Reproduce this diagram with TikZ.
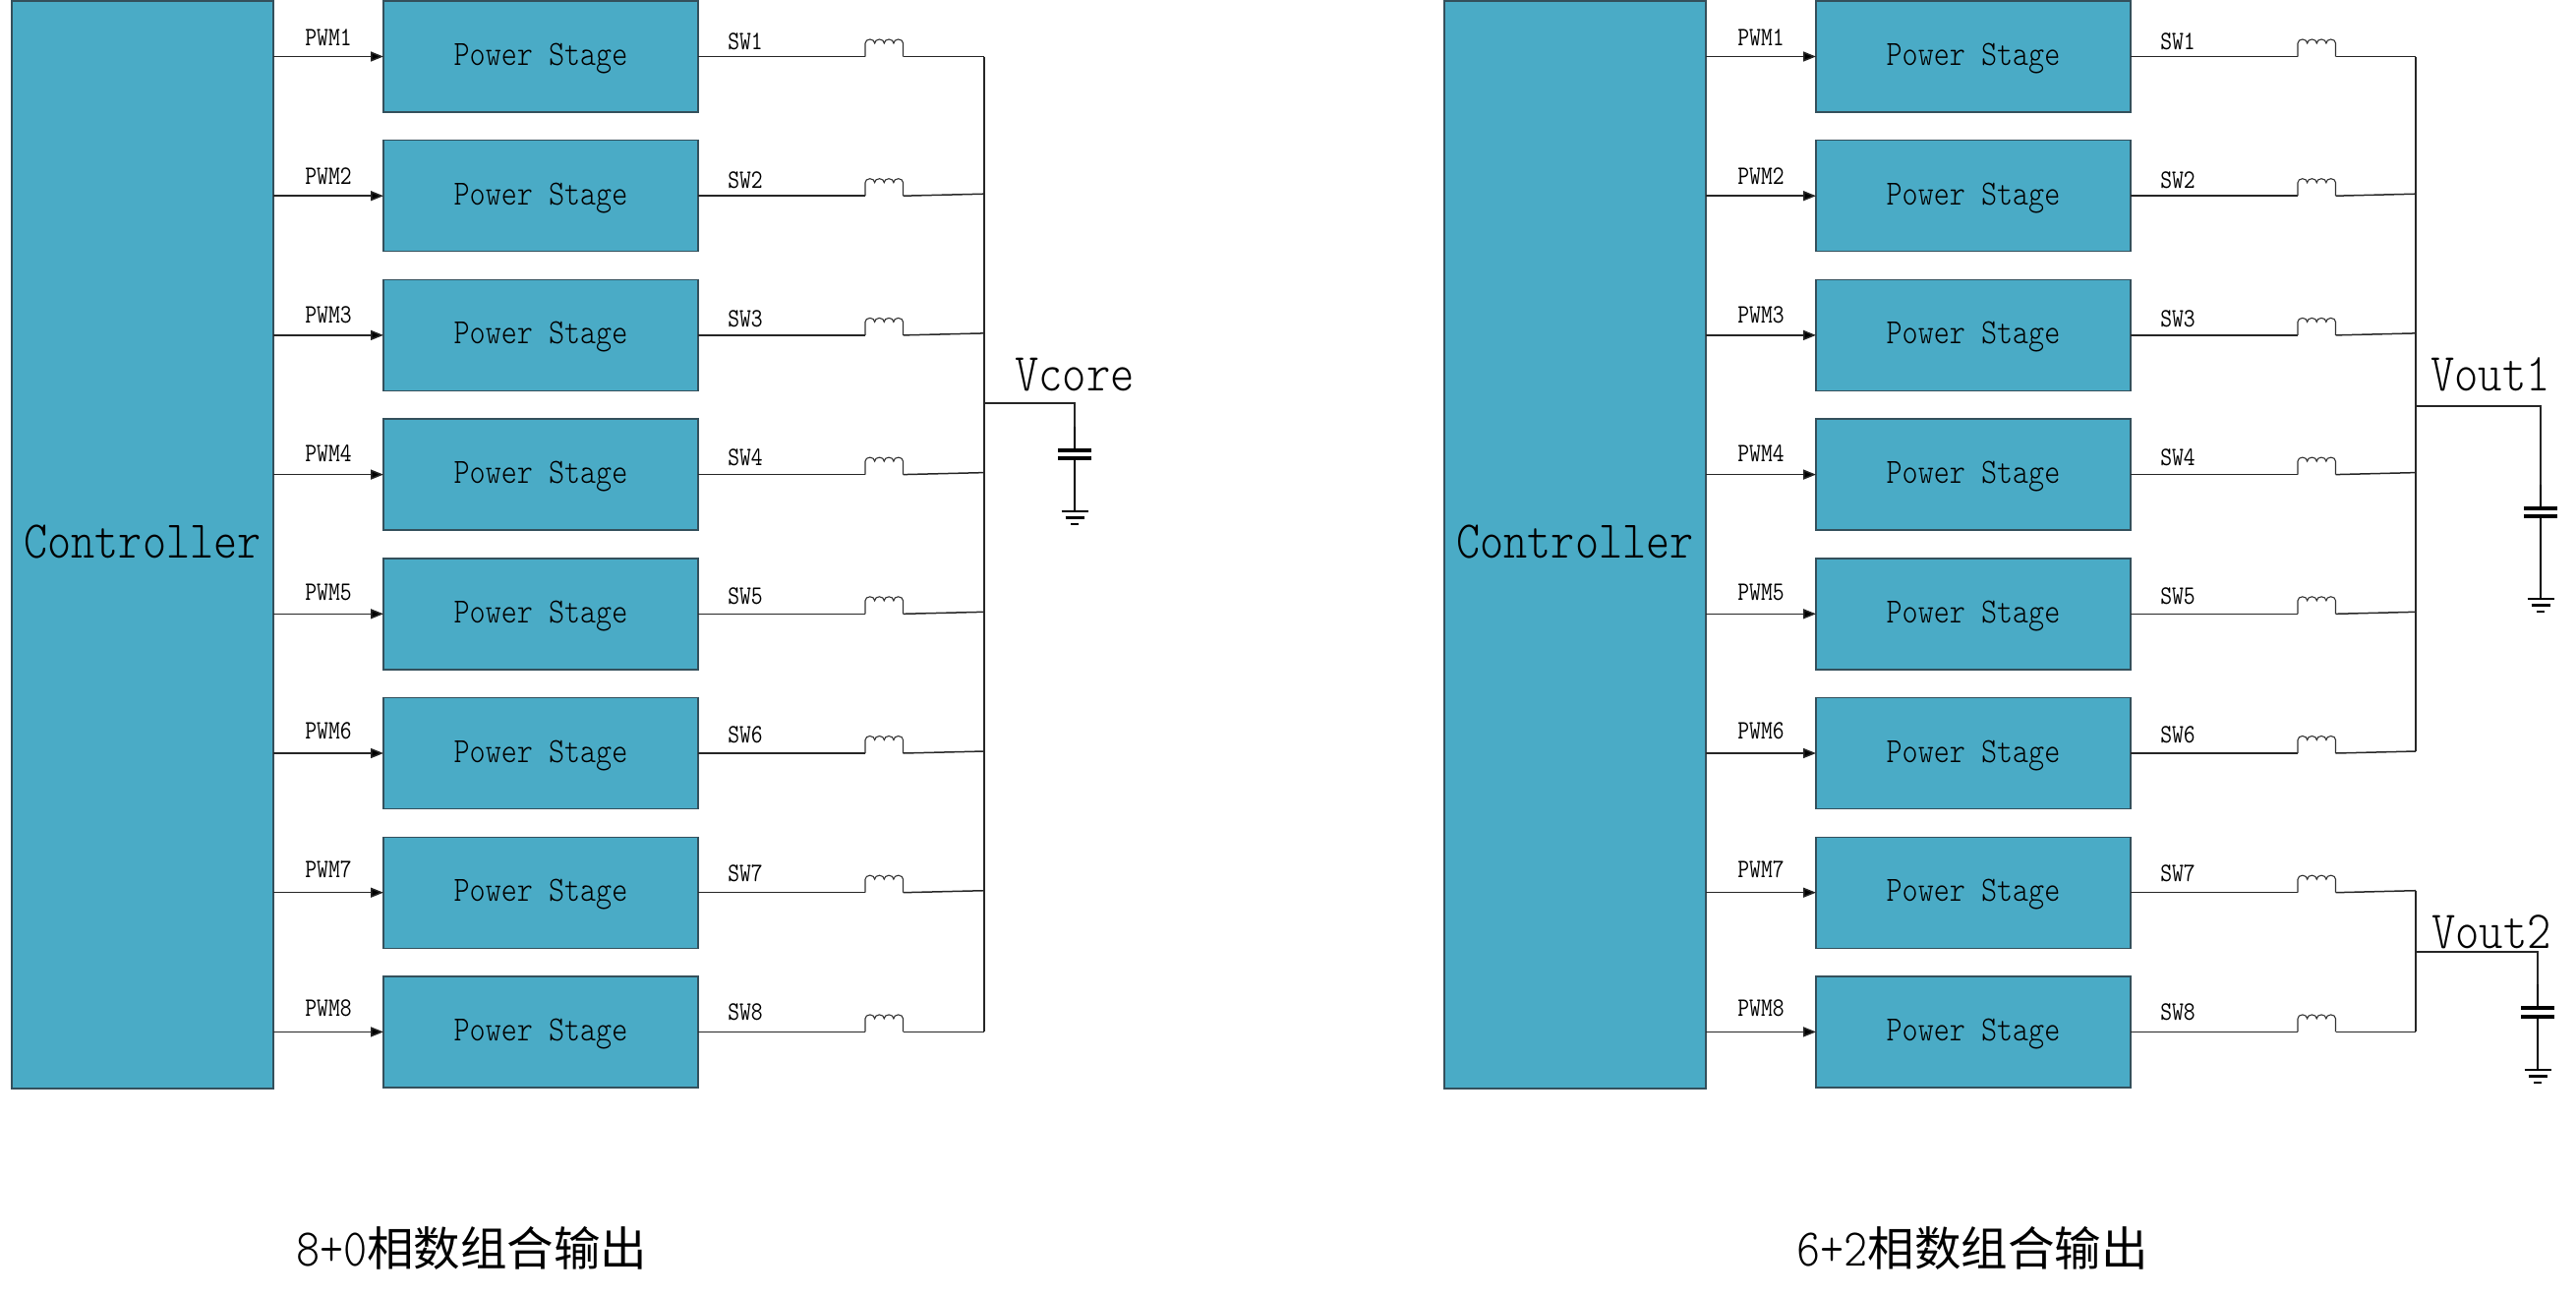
\documentclass[tikz,border=0pt]{standalone}
\usepackage{fontspec}
\usetikzlibrary{arrows.meta}
\newfontfamily\latinlab[FakeStretch=0.85]{Latin Modern Mono Light}
\newfontfamily\latinsmall[FakeStretch=0.85]{Latin Modern Mono}
\newfontfamily\cjkfont{Noto Sans CJK SC}
\definecolor{blockfill}{HTML}{4AABC6}
\definecolor{blockline}{HTML}{34505C}
\newcommand\labsize[1]{\fontsize{#1}{#1}\selectfont\latinlab}
\newcommand\smallsize[1]{\fontsize{#1}{#1}\selectfont\latinsmall}
\tikzset{
  wire/.style={line width=1.5pt,draw=black!85},
  lead/.style={line width=2pt,draw=black},
  plate/.style={line width=4pt,draw=black},
  gbar/.style={line width=2.6pt,draw=black},
  coil/.style={line width=1.1pt,draw=black!80},
  sig/.style={wire,-{Triangle[length=13pt,width=10pt,fill=black]},shorten >=0pt},
  block/.style={draw=blockline,fill=blockfill,line width=1.4pt,inner sep=0pt,outer sep=0pt},
  ctrlbox/.style={block,minimum width=266pt,minimum height=1106pt},
  psbox/.style={block,minimum width=320pt,minimum height=113pt},
  smalllab/.style={anchor=base,inner sep=0pt,font=\smallsize{27}},
  pslab/.style={anchor=base,inner sep=0pt,font=\labsize{36}},
  clab/.style={anchor=base,inner sep=0pt,font=\labsize{54}},
  vlab/.style={anchor=base,inner sep=0pt,font=\labsize{54.5}},
  titlelab/.style={anchor=base west,inner sep=0pt}
}
\newcommand\capgnd[6]{% name, x, tap name, plate1, plate2, ground
  \coordinate (#1top) at (#2,#4);
  \coordinate (#1bot) at (#2,#5);
  \coordinate (#1g) at (#2,#6);
  \draw[wire] (#3) -| (#1top);
  \draw[lead] (#2,#4-24) -- (#1top);
  \draw[lead] (#1bot) -- (#1g);
  \draw[plate] (#2-17,#4) -- (#2+17,#4);
  \draw[plate] (#2-17,#5) -- (#2+17,#5);
  \draw[gbar] (#2-13.5,#6) -- (#2+13.5,#6);
  \draw[gbar] (#2-9.5,#6+6.5) -- (#2+9.5,#6+6.5);
  \draw[gbar] (#2-4,#6+13) -- (#2+4,#6+13);
}
\begin{document}
\begin{tikzpicture}[x=1pt,y=-1pt]
\useasboundingbox (0,0) rectangle (2620,1318);
\foreach \pre/\ox/\bx in {L/0/1001,R/1457/2457}{
  \node[ctrlbox] (\pre ctrl) at (\ox+145,554) {};
  \node[clab] (\pre ctrltext) at (\ox+145,567) {Controller};
  \foreach \i in {1,...,8}{
    \pgfmathsetmacro\cy{57.5+141.7*(\i-1)}
    \pgfmathsetmacro\ly{141*(\i-1)}
    \pgfmathsetmacro\dy{(\i==1||\i==8)?0:2}
    \node[psbox] (\pre ps\i) at (\ox+550,\cy) {};
    \node[pslab] (\pre pst\i) at (\ox+550,\cy+9) {Power Stage};
    \node[smalllab] (\pre pwm\i) at (\ox+334,46+\ly) {PWM\i};
    \node[smalllab] (\pre sw\i) at (\ox+758,50.5+\ly) {SW\i};
    \coordinate (\pre ia\i) at (\ox+880,\cy);
    \coordinate (\pre ib\i) at (\ox+918.5,\cy);
    \coordinate (\pre bus\i) at (\bx,\cy-\dy);
    \draw[sig] (\pre ps\i.west -| \pre ctrl.east) -- (\pre ps\i.west);
    \draw[wire] (\pre ps\i.east) -- (\pre ia\i);
    \draw[wire] (\pre ib\i) -- (\pre bus\i);
    \draw[coil] (\pre ia\i) -- ++(0,-13.5)
      arc[start angle=180,end angle=360,x radius=4.8125,y radius=4]
      arc[start angle=180,end angle=360,x radius=4.8125,y radius=4]
      arc[start angle=180,end angle=360,x radius=4.8125,y radius=4]
      arc[start angle=180,end angle=360,x radius=4.8125,y radius=4]
      -- (\pre ib\i);
  }
}
% buses
\draw[wire] (Lbus1) -- (Lbus8);
\draw[wire] (Rbus1) -- (Rbus6);
\draw[wire] (Rbus7) -- (Rbus8);
% output taps
\coordinate (Ltap) at (1001,410);
\coordinate (Rtapa) at (2457,413);
\coordinate (Rtapb) at (2457,968);
\capgnd{Lc}{1093}{Ltap}{458}{466}{520}
\capgnd{Ra}{2584}{Rtapa}{517}{525}{609}
\capgnd{Rb}{2581}{Rtapb}{1025}{1034}{1088}
\node[vlab] (Vcore) at (1093,397) {Vcore};
\node[vlab] (Vouta) at (2533,397) {Vout1};
\node[vlab] (Voutb) at (2534,964) {Vout2};
% titles
\node[titlelab] (TitleL) at (301,1287) {{\labsize{54}8+0}{\cjkfont\fontsize{47.5}{47.5}\selectfont 相数组合输出}};
\node[titlelab] (TitleR) at (1827,1287) {{\labsize{54}6+2}{\cjkfont\fontsize{47.5}{47.5}\selectfont 相数组合输出}};
\end{tikzpicture}
\end{document}
